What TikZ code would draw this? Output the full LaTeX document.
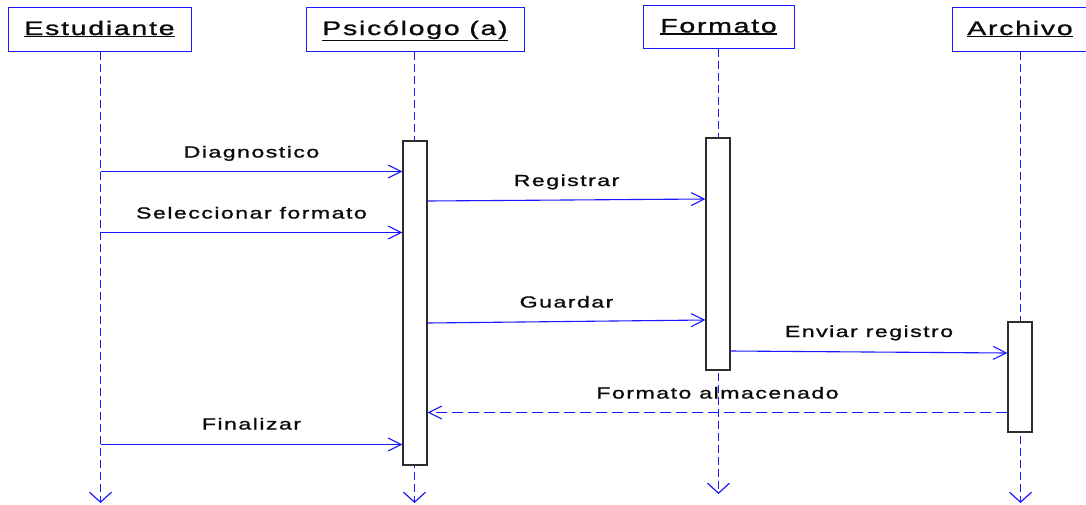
\documentclass[tikz,border=0pt]{standalone}
\usepackage{fontspec}
\setmainfont{Liberation Sans}[FakeStretch=1.45,LetterSpace=9,FakeBold=1.1]
\usetikzlibrary{arrows.meta}
\definecolor{seqblue}{RGB}{25,25,255}
\definecolor{actgray}{RGB}{45,45,45}
\definecolor{txt}{RGB}{10,10,10}
% underline drawn as a rule just below the text's own depth
\newcommand\headul[1]{\setbox0\hbox{#1}%
  \rlap{\raisebox{\dimexpr-\dp0-1.9pt\relax}{\rule{\wd0}{1.3pt}}}\box0}
\begin{document}
\begin{tikzpicture}[x=1pt,y=-1pt,
  head/.style={draw=seqblue, line width=1pt, fill=white, inner sep=0pt,
    text height=14pt, text depth=2pt, text=txt,
    font=\fontsize{19.6}{21}\selectfont},
  life/.style={draw=seqblue, line width=1.2pt, dash pattern=on 8pt off 4pt,
    -{Straight Barb[length=10pt,width=22pt,line width=1.2pt]}},
  act/.style={draw=actgray, line width=1.2pt, fill=white, inner sep=0pt,
    minimum width=24pt},
  msg/.style={draw=seqblue, line width=1.1pt,
    -{Straight Barb[length=13pt,width=13pt,line width=1.1pt]}},
  ret/.style={msg, dash pattern=on 11pt off 5pt},
  lbl/.style={anchor=base, inner sep=0pt, text=txt,
    font=\fontsize{16}{18}\selectfont},
]
\useasboundingbox (0,0) rectangle (1086,504);

% participants
\node[head, minimum width=183pt, minimum height=44pt] (hE) at (99.5,29) {\headul{Estudiante}};
\node[head, minimum width=218pt, minimum height=44pt] (hP) at (415,29) {\headul{Psicólogo (a)}};
\node[head, minimum width=151pt, minimum height=43pt] (hF) at (718.5,26.5) {\headul{Formato}};
\node[head, minimum width=136pt, minimum height=44pt] (hA) at (1020,29) {\headul{Archivo}};

% lifeline ends
\coordinate (eE) at (100.5,503);
\coordinate (eP) at (414.5,503);
\coordinate (eF) at (718.5,494);
\coordinate (eA) at (1020.5,503);

% lifelines
\draw[life] (hE.south -| eE) -- (eE);
\draw[life] (hP.south -| eP) -- (eP);
\draw[life] (hF.south -| eF) -- (eF);
\draw[life] (hA.south -| eA) -- (eA);

% activation bars
\node[act, minimum height=324pt] (aP) at (415,303) {};
\node[act, minimum height=232pt] (aF) at (718,254) {};
\node[act, minimum height=110pt] (aA) at (1020,377) {};

% message end points
\coordinate (d0) at (eE |- 0,171.5);
\coordinate (s0) at (eE |- 0,232.5);
\coordinate (f0) at (eE |- 0,444.5);
\coordinate (r0) at (aP.east |- 0,201);
\coordinate (r1) at (aF.west |- 0,199);
\coordinate (g0) at (aP.east |- 0,323);
\coordinate (g1) at (aF.west |- 0,320);
\coordinate (v0) at (aF.east |- 0,351);
\coordinate (v1) at (aA.west |- 0,353);
\coordinate (b0) at (aA.west |- 0,412.5);
\coordinate (b1) at (aP.east |- 0,412.5);

% messages
\draw[msg] (d0) -- node[lbl, yshift=14pt] (tD) {Diagnostico} (d0 -| aP.west);
\draw[msg] (r0) -- node[lbl, yshift=14pt] (tR) {Registrar} (r1);
\draw[msg] (s0) -- node[lbl, yshift=14pt] (tS) {Seleccionar formato} (s0 -| aP.west);
\draw[msg] (g0) -- node[lbl, yshift=14pt] (tG) {Guardar} (g1);
\draw[msg] (v0) -- node[lbl, yshift=15pt] (tV) {Enviar registro} (v1);
\draw[ret] (b0) -- node[lbl, yshift=14pt] (tB) {Formato almacenado} (b1);
\draw[msg] (f0) -- node[lbl, yshift=15pt] (tF) {Finalizar} (f0 -| aP.west);
\end{tikzpicture}
\end{document}
